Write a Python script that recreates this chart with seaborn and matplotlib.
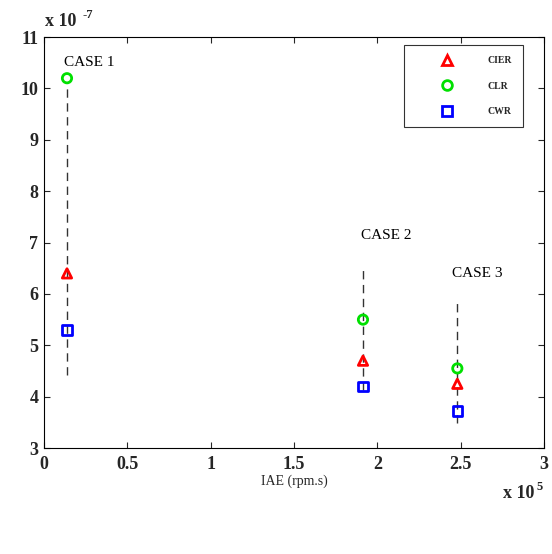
import matplotlib
matplotlib.use("Agg")
import matplotlib.pyplot as plt
from matplotlib.lines import Line2D
import seaborn as sns
import pandas as pd

# Data (x in units of 1e5, y in units of 1e-7)
cases = ["CASE 1", "CASE 2", "CASE 3"]
iae = [0.138, 1.914, 2.48]
cier = [6.4, 4.7, 4.25]
clr = [10.2, 5.5, 4.55]
cwr = [5.3, 4.2, 3.72]
line_top = [10.0, 6.54, 5.82]
line_bottom = [4.42, 4.13, 3.49]
label_x = [0.12, 1.90, 2.45]
label_y = [10.38, 7.02, 6.28]
methods = ["CIER", "CLR", "CWR"]
xticks = [0, 0.5, 1, 1.5, 2, 2.5, 3]
yticks = [3, 4, 5, 6, 7, 8, 9, 10, 11]

sns.set_style("ticks")
plt.rcParams['font.family'] = ['Liberation Serif', 'DejaVu Serif']

rows = []
for m, vals in zip(methods, [cier, clr, cwr]):
    for x, v in zip(iae, vals):
        rows.append({"IAE": x, "value": v, "method": m})
df = pd.DataFrame(rows)

palette = {"CIER": "#ff0000", "CLR": "#00e000", "CWR": "#0000ff"}
markers = {"CIER": "^", "CLR": "o", "CWR": "s"}

fig = plt.figure(figsize=(5.52, 5.54), dpi=100)
ax = fig.add_axes([0.0797, 0.1913, 0.9058, 0.7417])

ax.vlines(iae, line_bottom, line_top, colors="#333333", linestyles=(0, (6, 4)), linewidth=1.0, zorder=1)

sns.scatterplot(data=df, x="IAE", y="value", hue="method", style="method",
                palette=palette, markers=markers, s=45, linewidth=2, ax=ax,
                legend=False, zorder=3)
for coll in ax.collections:
    if len(coll.get_offsets()) == len(df):
        fc = coll.get_facecolors()
        coll.set_edgecolors(fc)
        coll.set_facecolors("none")

for t, x, y in zip(cases, label_x, label_y):
    ax.text(x, y, t, fontsize=11, color="black", ha="left", va="bottom")

ax.set_xlim(0, 3)
ax.set_ylim(3, 11)
ax.set_xticks(xticks)
ax.set_yticks(yticks)
ax.set_xticklabels([f"{t:g}" for t in xticks], fontsize=13, fontweight="bold")
ax.set_yticklabels([f"{t:g}" for t in yticks], fontsize=13, fontweight="bold")
ax.tick_params(axis="x", direction="in", top=True, length=4, width=0.8, pad=6)
ax.tick_params(axis="y", direction="in", right=True, length=4, width=0.8, pad=4)
for s in ax.spines.values():
    s.set_color("black")
    s.set_linewidth(0.8)
ax.set_xlabel("IAE (rpm.s)", fontsize=10, labelpad=1)
ax.set_ylabel("")

fig.text(0.082, 0.945, "x 10", fontsize=13, fontweight="bold", ha="left", va="bottom")
fig.text(0.150, 0.962, "-7", fontsize=9, fontweight="bold", ha="left", va="bottom")
fig.text(0.912, 0.093, "x 10", fontsize=13, fontweight="bold", ha="left", va="bottom")
fig.text(0.972, 0.110, "5", fontsize=9, fontweight="bold", ha="left", va="bottom")

handles = [Line2D([], [], linestyle="none", marker=markers[m], markersize=7,
                  markerfacecolor="none", markeredgecolor=palette[m], markeredgewidth=2)
           for m in methods]
leg = ax.legend(handles, methods, loc="upper right", bbox_to_anchor=(0.958, 0.98),
                borderaxespad=0, frameon=True, fancybox=False, edgecolor="black",
                prop={"size": 7, "weight": "bold"}, handlelength=6.6, handletextpad=0.9,
                labelspacing=1.7, borderpad=1.1, markerfirst=True)
leg.get_frame().set_linewidth(0.8)
leg.set_zorder(5)

fig.savefig("out.png", dpi=100)
